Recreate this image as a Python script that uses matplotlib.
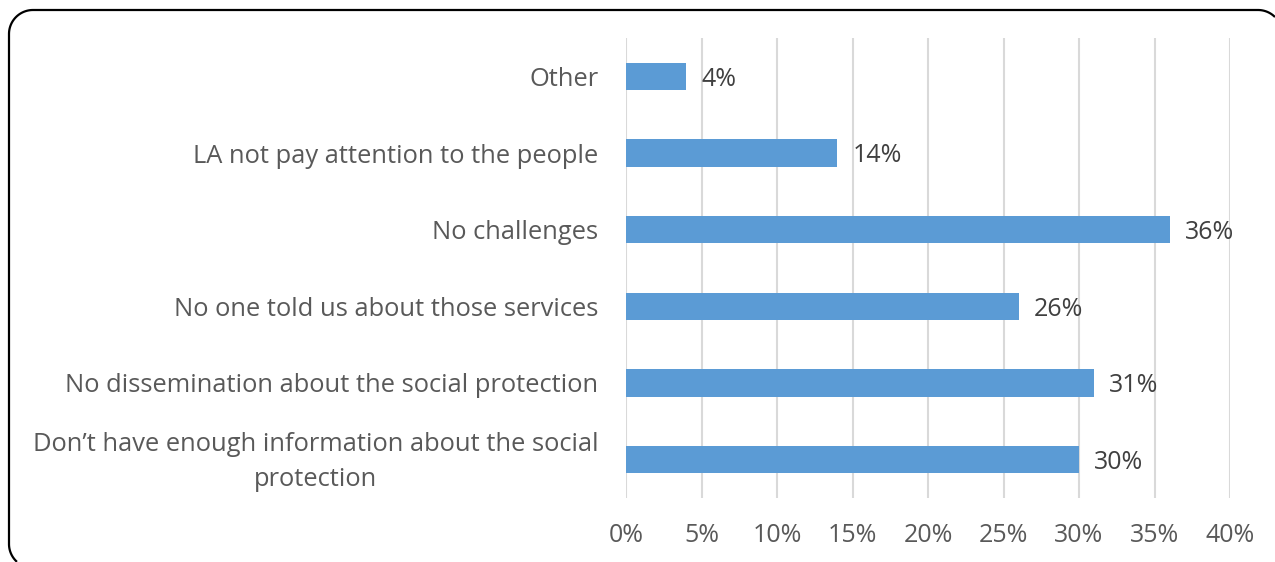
import numpy as np
import matplotlib.pyplot as plt
import matplotlib.transforms as mtransforms
from matplotlib.lines import Line2D

plt.rcParams['font.family'] = ['Open Sans', 'DejaVu Sans']

categories = [
    "Don\u2019t have enough information about the social\nprotection",
    "No dissemination about the social protection",
    "No one told us about those services",
    "No challenges",
    "LA not pay attention to the people",
    "Other",
]
values = [30, 31, 26, 36, 14, 4]
xticks = [0, 5, 10, 15, 20, 25, 30, 35, 40]

fig = plt.figure(figsize=(12.75, 5.62), dpi=100)
ax = fig.add_axes([626 / 1275, 1 - 498 / 562, 604 / 1275, 460 / 562])

pos = range(len(categories))
ax.barh(pos, values, height=0.36, color='#5B9BD5', zorder=3)
for y, v in zip(pos, values):
    ax.annotate(f"{v}%", (v, y), xytext=(11, -2), textcoords='offset points',
                va='center', ha='left', fontsize=18, color='#404040')

ax.set_xlim(0, 40)
ax.set_ylim(-0.5, len(categories) - 0.5)
ax.set_xticks(xticks)
ax.set_xticklabels([f"{t}%" for t in xticks])
ax.set_yticks(list(pos))
ax.set_yticklabels(categories, multialignment='center', linespacing=1.52)
ax.tick_params(axis='both', length=0, labelsize=18.4, labelcolor='#595959')
ax.tick_params(axis='x', labelsize=18, pad=18)
ax.tick_params(axis='y', pad=20)
ax.grid(axis='x', color='#d9d9d9', linewidth=1.5, zorder=0)
for s in ax.spines.values():
    s.set_visible(False)

# lift the two-line label a little so it sits centred on its bar
lbl = ax.get_yticklabels()[0]
lbl.set_transform(lbl.get_transform() +
                  mtransforms.ScaledTranslation(0, 4 / 72, fig.dpi_scale_trans))

# rounded frame: only the part inside the canvas (top-right corner,
# top, top-left corner, left side, start of the bottom-left corner)
W, H = 1275, 562
r = 24


def arc(cx, cy, a0, a1):
    t = np.radians(np.linspace(a0, a1, 30))
    return cx + r * np.cos(t), cy + r * np.sin(t)


xs, ys = [], []
for cx, cy, a0, a1 in [(1258, 34, -45, -90), (33, 34, -90, -180), (33, 544, 180, 132)]:
    ax_, ay_ = arc(cx, cy, a0, a1)
    xs.extend(ax_)
    ys.extend(ay_)
xs = np.array(xs) / W
ys = 1 - np.array(ys) / H
fig.add_artist(Line2D(xs, ys, transform=fig.transFigure, color='black',
                      linewidth=1.6, solid_capstyle='butt'))

fig.savefig('out.png', dpi=100)
